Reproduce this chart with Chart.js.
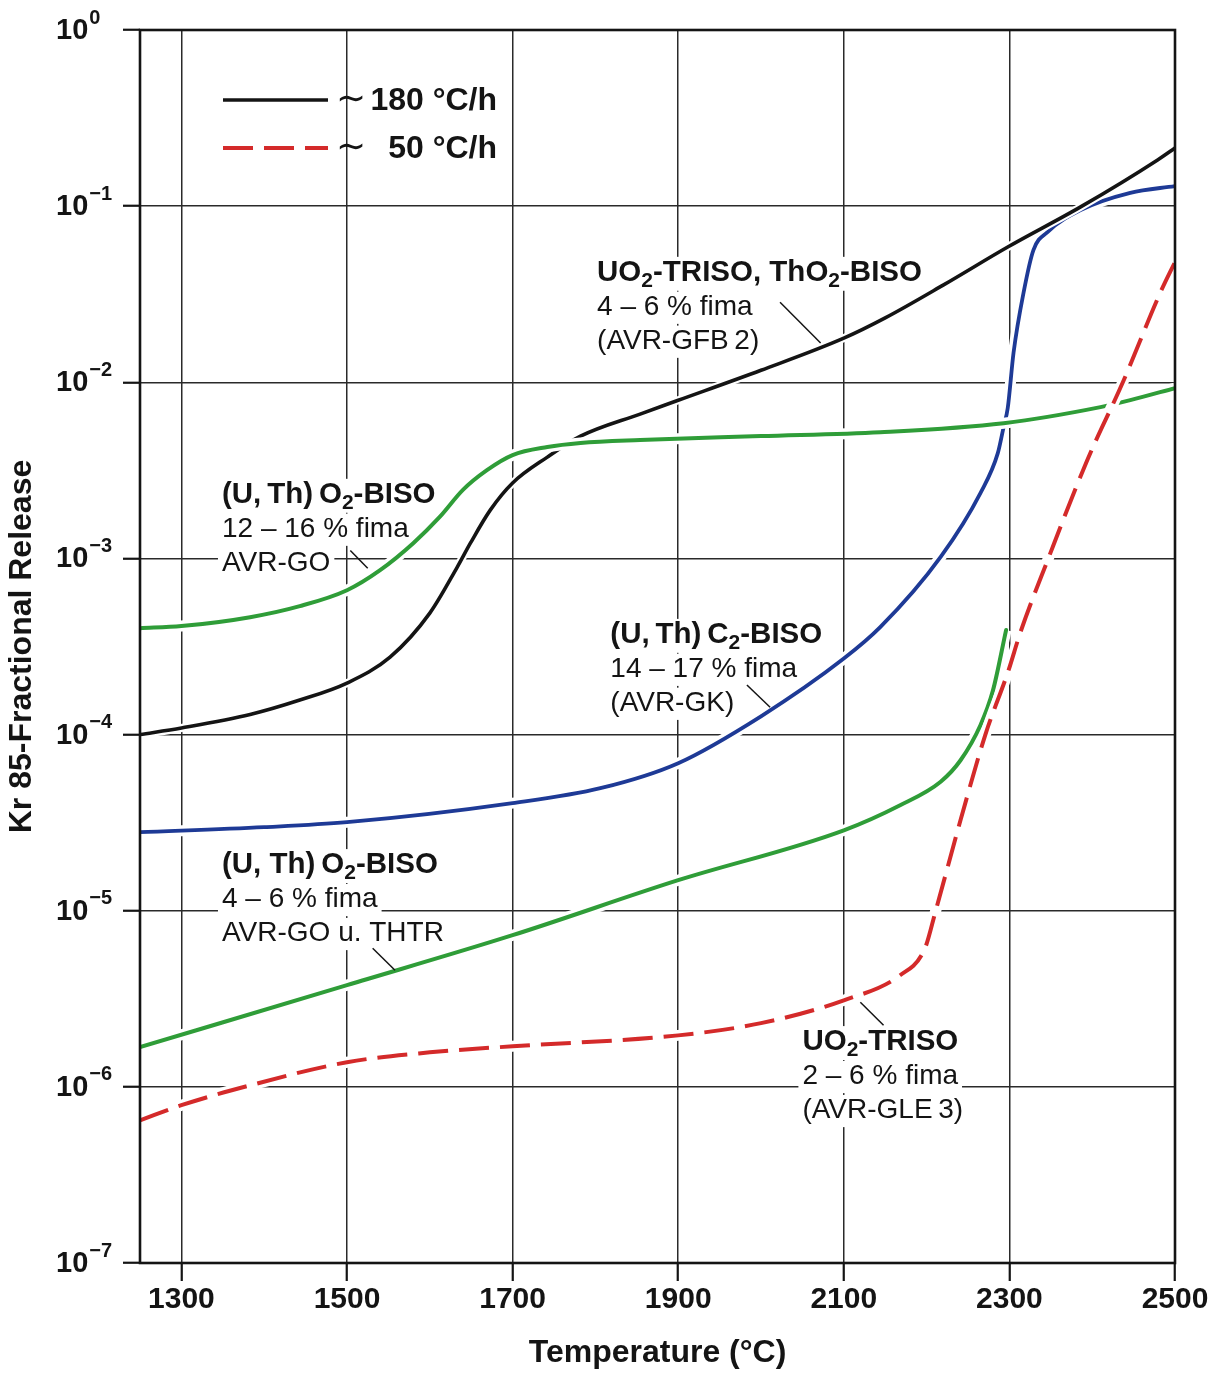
<!DOCTYPE html>
<html>
<head>
<meta charset="utf-8">
<script src="https://cdn.jsdelivr.net/npm/chart.js@4.4.1/dist/chart.umd.min.js"></script>
<style>
  html, body { margin: 0; padding: 0; background: #fff; }
  #wrap { width: 1224px; height: 1374px; position: relative; }
</style>
</head>
<body>
<div id="wrap"><canvas id="c"></canvas></div>
<script>
// Kr-85 fractional release versus heating temperature for several coated-particle fuels.

// UO2-TRISO, ThO2-BISO, 4-6 % fima (AVR-GFB 2), ~180 °C/h
const gfbTemp = [1250, 1300, 1383, 1443, 1500, 1552, 1600, 1633, 1649, 1673, 1700, 1742, 1782, 1854, 1900, 2000, 2100, 2150, 2220, 2298, 2386, 2479, 2500];
const gfbRelease = [1.0e-4, 1.09e-4, 1.3e-4, 1.57e-4, 1.96e-4, 2.75e-4, 4.89e-4, 8.9e-4, 1.22e-3, 1.88e-3, 2.68e-3, 3.76e-3, 4.94e-3, 6.6e-3, 7.9e-3, 1.17e-2, 1.78e-2, 2.32e-2, 3.56e-2, 5.86e-2, 9.9e-2, 0.183, 0.214];

// (U,Th)O2-BISO, 12-16 % fima (AVR-GO), ~180 °C/h
const goHighTemp = [1250, 1300, 1383, 1443, 1500, 1540, 1580, 1612, 1640, 1669, 1700, 1742, 1782, 1854, 2000, 2144, 2293, 2410, 2446, 2500];
const goHighRelease = [4.02e-4, 4.13e-4, 4.64e-4, 5.36e-4, 6.6e-4, 8.58e-4, 1.22e-3, 1.72e-3, 2.45e-3, 3.17e-3, 3.86e-3, 4.29e-3, 4.52e-3, 4.70e-3, 4.95e-3, 5.21e-3, 5.86e-3, 7.23e-3, 7.92e-3, 9.27e-3];

// (U,Th)C2-BISO, 14-17 % fima (AVR-GK), ~180 °C/h
const gkTemp = [1250, 1400, 1500, 1700, 1806, 1900, 2000, 2100, 2144, 2217, 2265, 2286, 2293, 2298, 2305, 2317, 2329, 2346, 2386, 2446, 2500];
const gkRelease = [2.79e-5, 2.98e-5, 3.18e-5, 4.08e-5, 4.96e-5, 6.88e-5, 1.27e-4, 2.7e-4, 4.07e-4, 1.02e-3, 2.35e-3, 3.96e-3, 5.57e-3, 7.14e-3, 1.47e-2, 3.21e-2, 5.63e-2, 7.13e-2, 9.5e-2, 0.119, 0.130];

// (U,Th)O2-BISO, 4-6 % fima (AVR-GO u. THTR), ~180 °C/h
const goLowTemp = [1250, 1500, 1700, 1900, 2100, 2168, 2217, 2241, 2265, 2280, 2296];
const goLowRelease = [1.68e-6, 3.78e-6, 7.26e-6, 1.49e-5, 2.86e-5, 3.97e-5, 5.4e-5, 7.15e-5, 1.13e-4, 1.77e-4, 3.92e-4];

// UO2-TRISO, 2-6 % fima (AVR-GLE 3), ~50 °C/h
const gleTemp = [1250, 1300, 1383, 1500, 1600, 1700, 1900, 2000, 2100, 2168, 2198, 2211, 2241, 2271, 2299, 2313, 2347, 2394, 2437, 2482, 2500];
const gleRelease = [6.46e-7, 7.87e-7, 1.02e-6, 1.38e-6, 1.57e-6, 1.70e-6, 1.96e-6, 2.30e-6, 3.10e-6, 4.30e-6, 6.12e-6, 1.0e-5, 3.27e-5, 1.0e-4, 2.32e-4, 3.77e-4, 1.0e-3, 3.61e-3, 1.0e-2, 3.21e-2, 4.82e-2];

// Axis ticks
const xTickValues = [1300, 1500, 1700, 1900, 2100, 2300, 2500];
const yTickExponents = [-7, -6, -5, -4, -3, -2, -1, 0];

// Heating-rate key
const legendRates = ['180 °C/h', '50 °C/h'];

const FONT = '"Liberation Sans", Arial, Helvetica, sans-serif';
const INK = '#141414';
const GREEN = '#2f9d38';
const BLUE = '#1e3a96';
const RED = '#d42a2a';

const pts = (t, r) => t.map((x, i) => ({ x, y: r[i] }));

function curve(label, t, r, color, width, dash) {
  return {
    label, data: pts(t, r), borderColor: color, borderWidth: width,
    borderDash: dash || [], borderCapStyle: dash ? 'butt' : 'round', borderJoinStyle: 'round',
    pointRadius: 0, cubicInterpolationMode: 'monotone', fill: false, clip: 0
  };
}
// White underlay so a curve on top interrupts the lines beneath it
function halo(t, r, width) {
  return {
    label: '', data: pts(t, r), borderColor: '#ffffff', borderWidth: width,
    pointRadius: 0, cubicInterpolationMode: 'monotone', fill: false, clip: 0
  };
}

// Curve labels with leader lines (data coordinates; "_2" draws a subscript 2)
const curveNotes = [
  { at: [1802, 0.0417], lines: ['UO_2-TRISO, ThO_2-BISO', '4 – 6 % fima', '(AVR-GFB\u20092)'], leader: [[2023, 0.0285], [2072, 0.0167]] },
  { at: [1349, 2.29e-3], lines: ['(U,\u2009Th)\u2009O_2-BISO', '12 – 16 % fima', 'AVR-GO'], leader: [[1504, 1.11e-3], [1525, 8.8e-4]] },
  { at: [1818, 3.67e-4], lines: ['(U,\u2009Th)\u2009C_2-BISO', '14 – 17 % fima', '(AVR-GK)'], leader: [[1983, 1.91e-4], [2011, 1.43e-4]] },
  { at: [1349, 1.81e-5], lines: ['(U, Th)\u2009O_2-BISO', '4 – 6 % fima', 'AVR-GO u. THTR'], leader: [[1531, 6.12e-6], [1558, 4.59e-6]] },
  { at: [2050, 1.79e-6], lines: ['UO_2-TRISO', '2 – 6 % fima', '(AVR-GLE\u20093)'], leader: [[2120, 3.02e-6], [2148, 2.24e-6]] }
];
const NOTE_BOLD = 29.5, NOTE_REG = 28, NOTE_STEP = 34;

function richText(ctx, text, x, y, size, weight, draw) {
  const parts = text.split(/(_\d)/);
  let cx = x;
  for (const p of parts) {
    if (!p) continue;
    if (p[0] === '_') {
      const s = p.slice(1);
      ctx.font = `${weight} ${Math.round(size * 0.72)}px ${FONT}`;
      if (draw) ctx.fillText(s, cx, y + size * 0.26);
      cx += ctx.measureText(s).width;
    } else {
      ctx.font = `${weight} ${size}px ${FONT}`;
      if (draw) ctx.fillText(p, cx, y);
      cx += ctx.measureText(p).width;
    }
  }
  return cx - x;
}

function noteLines(note) {
  return note.lines.map((txt, i) => ({
    txt, weight: i === 0 ? 'bold' : 'normal', size: i === 0 ? NOTE_BOLD : NOTE_REG, dy: i * NOTE_STEP
  }));
}

const decorations = {
  id: 'decorations',
  beforeDatasetsDraw(chart) {
    const { ctx, scales: { x, y } } = chart;
    ctx.save();
    ctx.textBaseline = 'middle';
    ctx.fillStyle = '#ffffff';
    for (const n of curveNotes) {
      const px = x.getPixelForValue(n.at[0]);
      const py = y.getPixelForValue(n.at[1]);
      for (const l of noteLines(n)) {
        const w = richText(ctx, l.txt, px, py + l.dy, l.size, l.weight, false);
        ctx.fillRect(px - 4, py + l.dy - l.size * 0.55, w + 8, l.size * 1.15);
      }
    }
    ctx.restore();
  },
  afterDatasetsDraw(chart) {
    const { ctx, chartArea: a, scales: { x, y } } = chart;
    ctx.save();

    // plot frame
    ctx.strokeStyle = INK;
    ctx.lineWidth = 2.6;
    ctx.strokeRect(a.left, a.top, a.right - a.left, a.bottom - a.top);

    // y tick labels as powers of ten
    ctx.fillStyle = INK;
    ctx.textAlign = 'left';
    ctx.textBaseline = 'middle';
    for (const e of yTickExponents) {
      const py = y.getPixelForValue(Math.pow(10, e));
      const lx = a.left - 84;
      ctx.font = `bold 29px ${FONT}`;
      ctx.fillText('10', lx, py + 1);
      const w = ctx.measureText('10').width;
      ctx.font = `bold 20px ${FONT}`;
      ctx.fillText(e === 0 ? '0' : '\u2212' + Math.abs(e), lx + w + 1, py - 12);
    }

    // curve labels and leader lines
    for (const n of curveNotes) {
      const px = x.getPixelForValue(n.at[0]);
      const py = y.getPixelForValue(n.at[1]);
      for (const l of noteLines(n)) richText(ctx, l.txt, px, py + l.dy, l.size, l.weight, true);
      ctx.beginPath();
      ctx.lineWidth = 1.5;
      ctx.moveTo(x.getPixelForValue(n.leader[0][0]), y.getPixelForValue(n.leader[0][1]));
      ctx.lineTo(x.getPixelForValue(n.leader[1][0]), y.getPixelForValue(n.leader[1][1]));
      ctx.stroke();
    }

    // heating-rate key
    const keyStyles = [chart.data.datasets[6], chart.data.datasets[0]];
    legendRates.forEach((txt, i) => {
      const ds = keyStyles[i];
      const ly = a.top + 70 + i * 48;
      ctx.beginPath();
      ctx.strokeStyle = ds.borderColor;
      ctx.lineWidth = ds.borderWidth;
      ctx.lineCap = 'butt';
      ctx.setLineDash(ds.borderDash || []);
      ctx.moveTo(a.left + 83, ly);
      ctx.lineTo(a.left + 188, ly);
      ctx.stroke();
      ctx.setLineDash([]);
      ctx.fillStyle = INK;
      ctx.textBaseline = 'middle';
      ctx.textAlign = 'center';
      ctx.font = `normal 36px "DejaVu Sans", ${FONT}`;
      ctx.fillText('\u223C', a.left + 211, ly + 1);
      ctx.textAlign = 'right';
      ctx.font = `bold 32px ${FONT}`;
      ctx.fillText(txt, a.left + 357, ly + 1);
    });
    ctx.restore();
  }
};

new Chart(document.getElementById('c'), {
  type: 'line',
  data: {
    datasets: [
      curve('UO2-TRISO 2-6 % fima (AVR-GLE 3)', gleTemp, gleRelease, RED, 4, [30, 11]),
      halo(gleTemp, gleRelease, 11),
      curve('(U,Th)O2-BISO 12-16 % fima (AVR-GO)', goHighTemp, goHighRelease, GREEN, 4),
      halo(goHighTemp, goHighRelease, 11),
      curve('(U,Th)O2-BISO 4-6 % fima (AVR-GO u. THTR)', goLowTemp, goLowRelease, GREEN, 4),
      halo(goLowTemp, goLowRelease, 11),
      curve('UO2-TRISO, ThO2-BISO 4-6 % fima (AVR-GFB 2)', gfbTemp, gfbRelease, INK, 3.6),
      halo(gfbTemp, gfbRelease, 8),
      curve('(U,Th)C2-BISO 14-17 % fima (AVR-GK)', gkTemp, gkRelease, BLUE, 3.8),
      halo(gkTemp, gkRelease, 11)
    ]
  },
  options: {
    responsive: true,
    maintainAspectRatio: false,
    animation: false,
    devicePixelRatio: 1,
    layout: { padding: { top: 30, right: 49, left: 0, bottom: 0 } },
    plugins: { legend: { display: false }, tooltip: { enabled: false } },
    scales: {
      x: {
        type: 'linear', min: 1250, max: 2500,
        afterBuildTicks: (s) => { s.ticks = xTickValues.map(v => ({ value: v })); },
        afterFit: (s) => { s.height = 111; },
        ticks: { callback: (v) => String(v), font: { family: FONT, size: 30, weight: 'bold' }, color: INK, padding: 1, maxRotation: 0, autoSkip: false },
        grid: { color: '#2a2a2a', lineWidth: 1.5, tickLength: 18, tickWidth: 2.2, tickColor: INK },
        border: { display: false },
        title: { display: true, text: 'Temperature (°C)', font: { family: FONT, size: 32, weight: 'bold' }, color: INK, padding: { top: 0, bottom: 2 } }
      },
      y: {
        type: 'logarithmic', min: 1e-7, max: 1,
        afterBuildTicks: (s) => { s.ticks = yTickExponents.map(e => ({ value: Math.pow(10, e) })); },
        afterFit: (s) => { s.width = 140; },
        ticks: { display: false },
        grid: { color: '#2a2a2a', lineWidth: 1.5, tickLength: 17, tickWidth: 2.2, tickColor: INK },
        border: { display: false },
        title: { display: true, text: 'Kr 85-Fractional Release', font: { family: FONT, size: 32, weight: 'bold' }, color: INK, padding: { top: 3, bottom: 0 } }
      }
    }
  },
  plugins: [decorations]
});
</script>
</body>
</html>
